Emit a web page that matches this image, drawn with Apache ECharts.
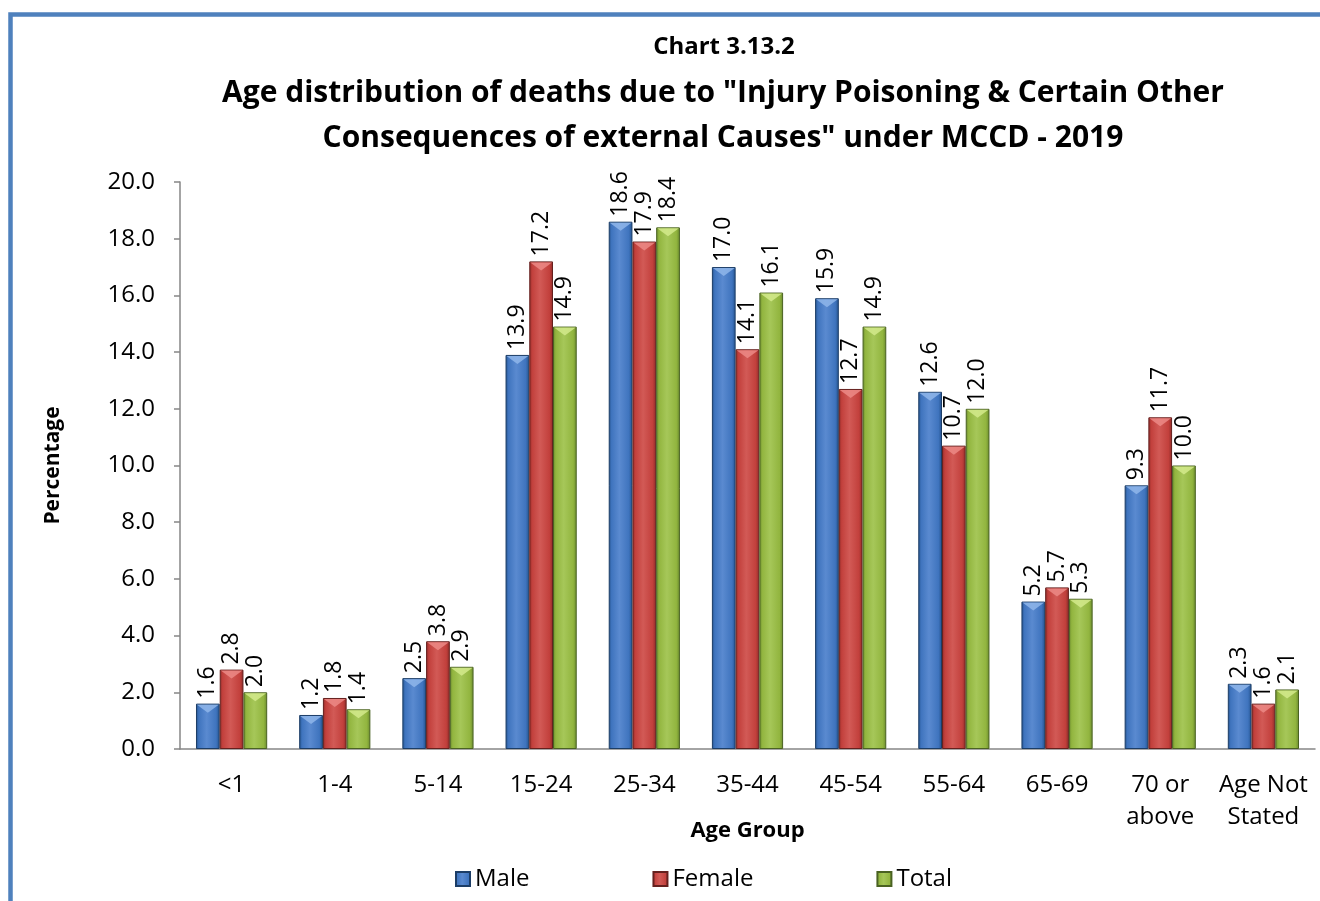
<!DOCTYPE html>
<html>
<head>
<meta charset="UTF-8">
<title>Chart 3.13.2</title>
<style type="text/css">
	html, body { margin: 0; padding: 0; background: #fff; }
	#main { width: 1320px; height: 901px; }
</style>
<script src="https://cdn.jsdelivr.net/npm/echarts@6/dist/echarts.min.js"></script>
</head>
<body>
<div id="main"></div>
<script>
	var chart = echarts.init(document.getElementById('main'));

	var ageGroups = ['<1', '1-4', '5-14', '15-24', '25-34', '35-44', '45-54', '55-64', '65-69', '70 or\nabove', 'Age Not\nStated'];
	var male   = [1.6, 1.2, 2.5, 13.9, 18.6, 17.0, 15.9, 12.6, 5.2, 9.3, 2.3];
	var female = [2.8, 1.8, 3.8, 17.2, 17.9, 14.1, 12.7, 10.7, 5.7, 11.7, 1.6];
	var total  = [2.0, 1.4, 2.9, 14.9, 18.4, 16.1, 14.9, 12.0, 5.3, 10.0, 2.1];

	var font = 'Open Sans';
	var catGap = 0.31; // share of a category left empty

	// gradient left->right, dark edges like the office bevel bars
	function barFill(dark, mid, light) {
		return new echarts.graphic.LinearGradient(0, 0, 1, 0, [
			{offset: 0, color: dark},
			{offset: 0.12, color: mid},
			{offset: 0.45, color: light},
			{offset: 0.85, color: mid},
			{offset: 1, color: dark}
		]);
	}

	function makeSeries(name, data, fill, border) {
		return {
			name: name,
			type: 'bar',
			data: data,
			barGap: '0%',
			barCategoryGap: (catGap * 100) + '%',
			itemStyle: {color: fill, borderColor: border, borderWidth: 1},
			label: {
				show: true,
				position: 'top',
				rotate: 90,
				align: 'left',
				verticalAlign: 'middle',
				distance: 5,
				fontFamily: font,
				fontSize: 23,
				color: '#000',
				formatter: function (p) { return p.value.toFixed(1); }
			}
		};
	}

	// light wedge on top of each bar (the bevel)
	function makeBevel(name, data, slot, color) {
		return {
			name: name + ' bevel',
			type: 'custom',
			silent: true,
			z: 3,
			data: data.map(function (v, i) { return [i, v]; }),
			renderItem: function (params, api) {
				var pt = api.coord([api.value(0), api.value(1)]);
				var band = api.size([1, 0])[0];
				var w = band * (1 - catGap) / 3;
				var x0 = pt[0] - band * (1 - catGap) / 2 + slot * w;
				var h = Math.min(9, w * 0.4);
				return {
					type: 'polygon',
					shape: {points: [[x0 + 1, pt[1] + 1], [x0 + w - 1, pt[1] + 1], [x0 + w / 2, pt[1] + h]]},
					style: {fill: color, opacity: 0.85}
				};
			}
		};
	}

	var option = {
		animation: false,
		backgroundColor: '#fff',
		textStyle: {fontFamily: font},
		graphic: [{
			type: 'rect',
			shape: {x: 10.5, y: 14.5, width: 1400, height: 1000},
			style: {fill: 'none', stroke: '#4f81bd', lineWidth: 4.5},
			silent: true
		}],
		title: [{
			text: 'Chart 3.13.2',
			left: 719,
			textAlign: 'center',
			top: 30,
			textStyle: {fontFamily: font, fontSize: 24, fontWeight: 'bold', color: '#000'}
		}, {
			text: 'Age distribution of deaths due to "Injury Poisoning & Certain Other\nConsequences of external Causes" under MCCD - 2019',
			left: 718,
			textAlign: 'center',
			top: 66,
			textStyle: {fontFamily: font, fontSize: 30, fontWeight: 'bold', color: '#000', lineHeight: 45, align: 'center'}
		}],
		legend: {
			top: 862,
			left: 450,
			itemWidth: 14,
			itemHeight: 14,
			itemGap: 123,
			icon: 'rect',
			textStyle: {fontFamily: font, fontSize: 24, color: '#000'},
			data: ['Male', 'Female', 'Total']
		},
		grid: {left: 180, right: 5, top: 182, bottom: 152},
		xAxis: {
			type: 'category',
			data: ageGroups,
			name: 'Age Group',
			nameLocation: 'middle',
			nameGap: 71,
			nameMoveOverlap: false,
			nameTextStyle: {fontFamily: font, fontSize: 22, fontWeight: 'bold', color: '#000'},
			axisLine: {lineStyle: {color: '#868686', width: 1.5}},
			axisTick: {length: 6, lineStyle: {color: '#868686', width: 1.5}},
			axisLabel: {fontFamily: font, fontSize: 24, color: '#000', margin: 20, lineHeight: 32, interval: 0}
		},
		yAxis: {
			type: 'value',
			min: 0,
			max: 20,
			interval: 2,
			name: 'Percentage',
			nameLocation: 'middle',
			nameGap: 116,
			nameTextStyle: {fontFamily: font, fontSize: 21, fontWeight: 'bold', color: '#000'},
			splitLine: {show: false},
			axisLine: {show: true, lineStyle: {color: '#868686', width: 1.5}},
			axisTick: {show: true, inside: false, length: 6, lineStyle: {color: '#868686', width: 1.5}},
			axisLabel: {fontFamily: font, fontSize: 24, color: '#000', margin: 25,
				formatter: function (v) { return v.toFixed(1); }}
		},
		series: [
			makeSeries('Male', male, barFill('#24528c', '#3f74be', '#5a8ad0'), '#1c3d66'),
			makeSeries('Female', female, barFill('#8e2c29', '#c2403c', '#d25a56'), '#65201e'),
			makeSeries('Total', total, barFill('#6a8a2e', '#92b53f', '#a6c759'), '#4a6222'),
			makeBevel('Male', male, 0, '#8fb6ea'),
			makeBevel('Female', female, 1, '#ec8a86'),
			makeBevel('Total', total, 2, '#d3ea8c')
		]
	};

	chart.setOption(option);
</script>
</body>
</html>
